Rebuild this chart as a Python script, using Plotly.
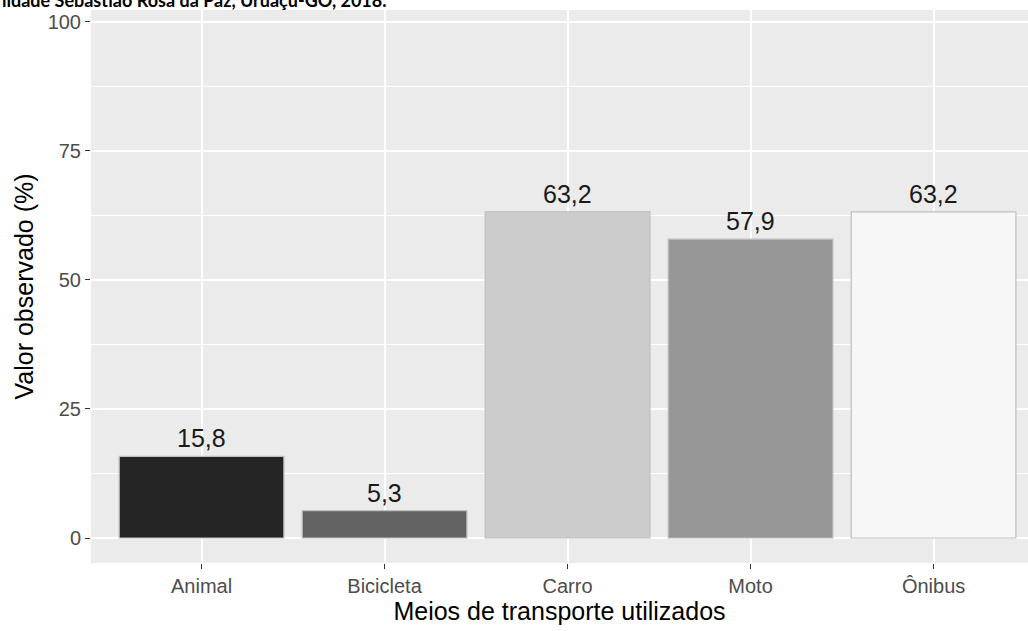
import plotly.graph_objects as go

categories = ["Animal", "Bicicleta", "Carro", "Moto", "Ônibus"]
values = [15.8, 5.3, 63.2, 57.9, 63.2]
labels = ["15,8", "5,3", "63,2", "57,9", "63,2"]
colors = ["#252525", "#636363", "#CCCCCC", "#969696", "#F7F7F7"]
y_ticks = [0, 25, 50, 75, 100]
title_text = "Comunidade Sebastião Rosa da Paz, Uruaçu-GO, 2018."

fig = go.Figure()
fig.add_trace(go.Bar(
    x=categories, y=values, width=0.9,
    marker=dict(color=colors, line=dict(color="#BEBEBE", width=1.2)),
    showlegend=False, hoverinfo="skip",
))
for c, v, t in zip(categories, values, labels):
    fig.add_annotation(x=c, y=v, text=t, showarrow=False, yanchor="bottom",
                       yshift=2, font=dict(family="Liberation Sans", size=25, color="#1a1a1a"))

fig.add_annotation(xref="paper", yref="paper", x=(389 - 91) / (1028 - 91), y=1,
                   xanchor="right", yanchor="bottom", yshift=-3, showarrow=False,
                   text="<b>" + title_text + "</b>",
                   font=dict(family="Lato", size=18, color="#000000"))

fig.update_layout(
    width=1028, height=631,
    margin=dict(l=91, r=0, t=10, b=68),
    paper_bgcolor="white", plot_bgcolor="#EBEBEB",
    bargap=0.1,
)
fig.update_xaxes(
    range=[-0.604, 4.516], showgrid=True, gridcolor="white", gridwidth=1.6,
    ticks="outside", ticklen=5, tickcolor="#333333", tickwidth=1.2,
    tickfont=dict(family="Liberation Sans", size=20, color="#4D4D4D"),
    title=dict(text="Meios de transporte utilizados", standoff=2,
               font=dict(family="Liberation Sans", size=25, color="#000000")),
    zeroline=False, showline=False,
)
fig.update_yaxes(
    range=[-4.84, 102.3], tickvals=y_ticks, showgrid=True, gridcolor="white", gridwidth=1.6,
    minor=dict(tickvals=[12.5, 37.5, 62.5, 87.5], showgrid=True, gridcolor="white", gridwidth=0.8, ticks=""),
    ticks="outside", ticklen=5, tickcolor="#333333", tickwidth=1.2,
    tickfont=dict(family="Liberation Sans", size=20, color="#4D4D4D"),
    title=dict(text="Valor observado (%)", standoff=6,
               font=dict(family="Liberation Sans", size=25, color="#000000")),
    zeroline=False, showline=False,
)

fig.write_html(
    "out.html",
    config={"displayModeBar": False},
    post_script="document.body.style.margin='0';document.body.style.overflow='hidden';"
                "document.documentElement.style.overflow='hidden';",
)
